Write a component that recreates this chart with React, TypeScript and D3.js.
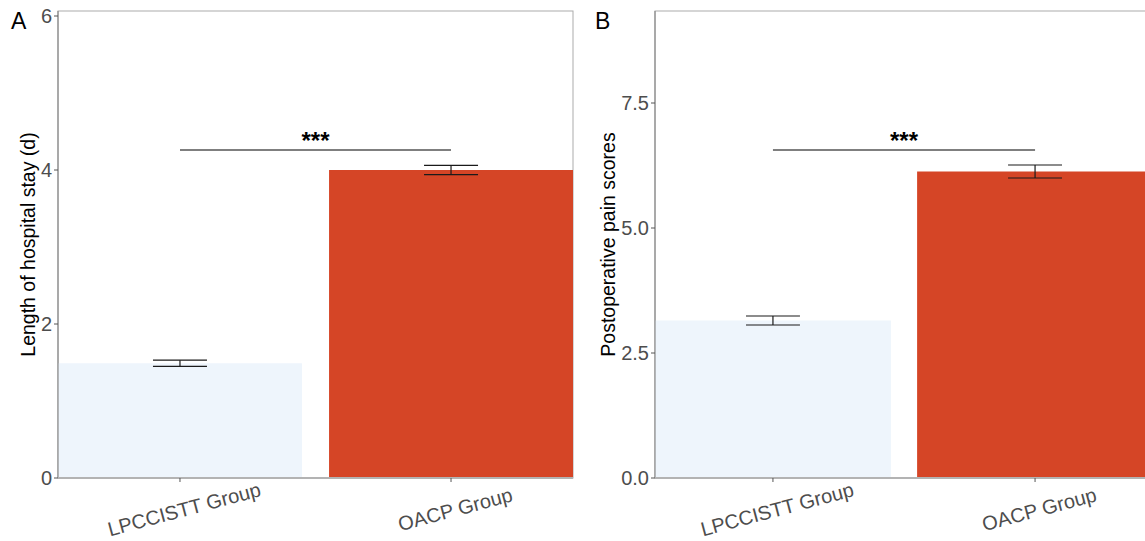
import React from "react";
import * as d3 from "d3";

const groups = ["LPCCISTT Group", "OACP Group"];
const stayMeans = [1.49, 4.0];
const stayErr = [0.04, 0.06];
const stayTicks = [0, 2, 4, 6];
const painMeans = [3.15, 6.13];
const painErr = [0.09, 0.13];
const painTicks = [0, 2.5, 5, 7.5];
const barColors = ["#EEF5FC", "#D54526"];

type PanelProps = {
  letter: string;
  letterX: number;
  left: number;
  right: number;
  yMax: number;
  means: number[];
  errs: number[];
  ticks: number[];
  tickFmt: (v: number) => string;
  title: string;
  titleX: number;
  sigY: number;
};

const TOP = 11;
const BOTTOM = 478;
const FONT = "'Liberation Sans', Arial, sans-serif";

function Panel(p: PanelProps) {
  const x = d3.scaleBand<string>().domain(groups).range([p.left, p.right]).paddingInner(0.1).paddingOuter(0);
  const y = d3.scaleLinear().domain([0, p.yMax]).range([BOTTOM, TOP]);
  const bw = x.bandwidth();
  const capW = 54;
  const cx = (g: string) => (x(g) as number) + bw / 2;
  return (
    <g>
      <text x={p.letterX} y={29} fontSize={23} fontFamily={FONT} fill="#000">{p.letter}</text>
      <rect x={p.left} y={TOP} width={p.right - p.left} height={BOTTOM - TOP} fill="white" stroke="#ababab" strokeWidth={1} />
      {groups.map((g, i) => (
        <rect key={g} x={x(g)} y={y(p.means[i])} width={bw} height={BOTTOM - y(p.means[i])} fill={barColors[i]} />
      ))}
      {groups.map((g, i) => (
        <g key={g + "e"} stroke="#1a1a1a" strokeWidth={1.2}>
          <line x1={cx(g) - capW / 2} x2={cx(g) + capW / 2} y1={y(p.means[i] + p.errs[i])} y2={y(p.means[i] + p.errs[i])} />
          <line x1={cx(g) - capW / 2} x2={cx(g) + capW / 2} y1={y(p.means[i] - p.errs[i])} y2={y(p.means[i] - p.errs[i])} />
          <line x1={cx(g)} x2={cx(g)} y1={y(p.means[i] + p.errs[i])} y2={y(p.means[i] - p.errs[i])} />
        </g>
      ))}
      <line x1={cx(groups[0])} x2={cx(groups[1])} y1={y(p.sigY)} y2={y(p.sigY)} stroke="#555" strokeWidth={1.3} />
      <text x={(cx(groups[0]) + cx(groups[1])) / 2} y={y(p.sigY) - 1} textAnchor="middle" fontSize={24} fontFamily={FONT} fontWeight="bold" fill="#000">***</text>
      <line x1={p.left} x2={p.left} y1={TOP} y2={BOTTOM} stroke="#8c8c8c" strokeWidth={1.2} />
      <line x1={p.left} x2={p.right} y1={BOTTOM} y2={BOTTOM} stroke="#b3b3b3" strokeWidth={2} />
      {p.ticks.map((t) => (
        <g key={t}>
          <line x1={p.left - 4} x2={p.left} y1={y(t)} y2={y(t)} stroke="#555" strokeWidth={1} />
          <text x={p.left - 6} y={y(t)} dy="0.36em" textAnchor="end" fontSize={20} fontFamily={FONT} fill="#4d4d4d">{p.tickFmt(t)}</text>
        </g>
      ))}
      {groups.map((g) => (
        <g key={g + "t"}>
          <line x1={cx(g)} x2={cx(g)} y1={BOTTOM} y2={BOTTOM + 4} stroke="#555" strokeWidth={1} />
          <text transform={`translate(${cx(g) + 6},${BOTTOM + 38}) rotate(-15)`} textAnchor="middle" fontSize={20} fontFamily={FONT} fill="#4d4d4d">{g}</text>
        </g>
      ))}
      <text transform={`translate(${p.titleX},${(TOP + BOTTOM) / 2}) rotate(-90)`} textAnchor="middle" fontSize={19.5} fontFamily={FONT} fill="#000">{p.title}</text>
    </g>
  );
}

export default function App() {
  return (
    <svg width={1145} height={541} style={{ position: "absolute", left: 0, top: 0, background: "white" }}>
      <rect width={1145} height={541} fill="white" />
      <Panel letter="A" letterX={11} left={58} right={573} yMax={6.065} means={stayMeans} errs={stayErr} ticks={stayTicks}
        tickFmt={(v) => d3.format("d")(v)} title="Length of hospital stay (d)" titleX={35} sigY={4.26} />
      <Panel letter="B" letterX={595} left={655} right={1153} yMax={9.34} means={painMeans} errs={painErr} ticks={painTicks}
        tickFmt={(v) => d3.format(".1f")(v)} title="Postoperative pain scores" titleX={615} sigY={6.56} />
    </svg>
  );
}
